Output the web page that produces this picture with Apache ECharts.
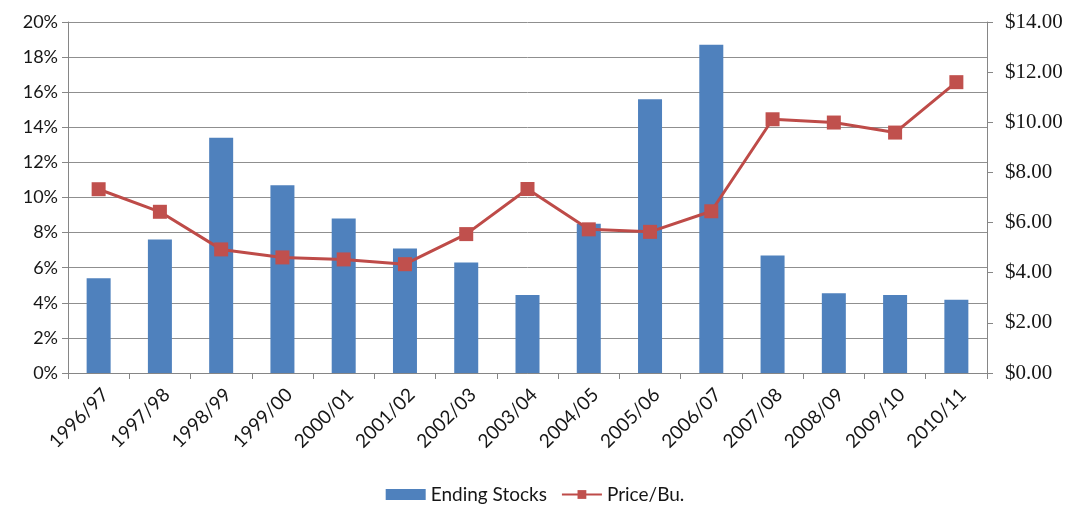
<!DOCTYPE html>
<html>
<head>
<meta charset="utf-8">
<script src="https://cdn.jsdelivr.net/npm/echarts@6/dist/echarts.min.js"></script>
<style>
  html, body { margin: 0; padding: 0; background: #fff; }
  #chart { width: 1070px; height: 512px; }
</style>
</head>
<body>
<div id="chart"></div>
<script>
// Marketing years
const years = ['1996/97', '1997/98', '1998/99', '1999/00', '2000/01', '2001/02', '2002/03',
  '2003/04', '2004/05', '2005/06', '2006/07', '2007/08', '2008/09', '2009/10', '2010/11'];

// Ending stocks as a percentage of use
const endingStocks = [5.4, 7.6, 13.4, 10.7, 8.8, 7.1, 6.3, 4.45, 8.5, 15.6, 18.7, 6.7, 4.55, 4.45, 4.17];

// Average price per bushel, dollars
const pricePerBu = [7.33, 6.43, 4.93, 4.61, 4.53, 4.34, 5.54, 7.34, 5.73, 5.63, 6.45, 10.12, 9.99, 9.59, 11.60];

const FONT = 'Lato';
const SERIF = 'Liberation Serif';
const TEXT = '#161616';

const chart = echarts.init(document.getElementById('chart'), null, { renderer: 'canvas' });

chart.setOption({
  animation: false,
  backgroundColor: '#ffffff',
  grid: { left: 68, right: 83, top: 22, bottom: 139, containLabel: false },
  legend: {
    bottom: 3,
    left: 'center',
    itemWidth: 40,
    itemHeight: 11,
    itemGap: 14,
    textStyle: { fontFamily: FONT, fontSize: 19, color: TEXT },
    data: [
      { name: 'Ending Stocks', icon: 'rect' },
      { name: 'Price/Bu.' }
    ]
  },
  xAxis: {
    type: 'category',
    data: years,
    boundaryGap: true,
    axisLine: { lineStyle: { color: '#868686', width: 1 } },
    axisTick: { show: true, alignWithLabel: false, length: 6, lineStyle: { color: '#868686' } },
    axisLabel: {
      rotate: 45,
      interval: 0,
      margin: 12,
      verticalAlign: 'top',
      fontFamily: FONT,
      fontSize: 19,
      color: TEXT
    }
  },
  yAxis: [
    {
      type: 'value',
      min: 0,
      max: 20,
      interval: 2,
      axisLine: { show: true, lineStyle: { color: '#868686' } },
      axisTick: { show: true, length: 6, lineStyle: { color: '#868686' } },
      splitLine: { show: true, lineStyle: { color: '#8f8f8f', width: 1 } },
      axisLabel: {
        formatter: v => v + '%',
        fontFamily: FONT,
        fontSize: 18,
        color: TEXT,
        margin: 10
      }
    },
    {
      type: 'value',
      min: 0,
      max: 14,
      interval: 2,
      position: 'right',
      axisLine: { show: true, lineStyle: { color: '#868686' } },
      axisTick: { show: true, length: 6, lineStyle: { color: '#868686' } },
      splitLine: { show: false },
      axisLabel: {
        formatter: v => '$' + v.toFixed(2),
        fontFamily: SERIF,
        fontSize: 21,
        color: TEXT,
        margin: 18
      }
    }
  ],
  series: [
    {
      name: 'Ending Stocks',
      type: 'bar',
      yAxisIndex: 0,
      data: endingStocks,
      barWidth: 24,
      itemStyle: { color: '#4f81bd' }
    },
    {
      name: 'Price/Bu.',
      type: 'line',
      yAxisIndex: 1,
      data: pricePerBu,
      symbol: 'rect',
      symbolSize: 14,
      lineStyle: { color: '#be4b48', width: 3 },
      itemStyle: { color: '#c0504d' },
      z: 5
    }
  ]
});
</script>
</body>
</html>
